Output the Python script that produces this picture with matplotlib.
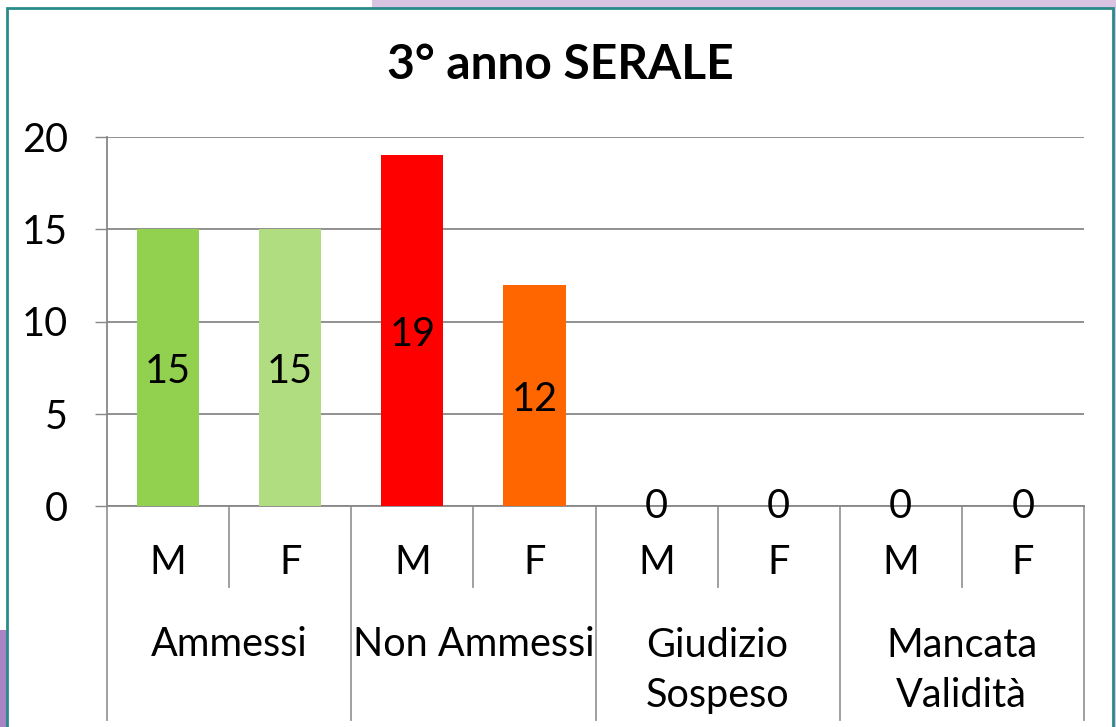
import matplotlib
matplotlib.use("Agg")
import matplotlib.pyplot as plt
from matplotlib.patches import Rectangle

title = "3° anno SERALE"
groups = ["Ammessi", "Non Ammessi", "Giudizio\nSospeso", "Mancata\nValidità"]
sexes = ["M", "F"]
values = [15, 15, 19, 12, 0, 0, 0, 0]
colors = ["#92D050", "#B0DD80", "#FF0000", "#FF6600", "#4F81BD", "#4F81BD", "#4F81BD", "#4F81BD"]
yticks = [0, 5, 10, 15, 20]

FONT = "Lato"
FS = 28.5
W, H = 1116, 727
fig = plt.figure(figsize=(W / 100, H / 100), dpi=100)
fig.patch.set_facecolor("white")

# background decorations
fig.add_artist(Rectangle((372 / W, 1 - 8 / H), (W - 372) / W, 8 / H, transform=fig.transFigure,
                         facecolor="#D8C4E2", edgecolor="none", zorder=0))
fig.add_artist(Rectangle((1113 / W, 0), 3 / W, 1, transform=fig.transFigure,
                         facecolor="#D8C4E2", edgecolor="none", zorder=0))
fig.add_artist(Rectangle((0, 0), 7 / W, (H - 630) / H, transform=fig.transFigure,
                         facecolor="#A884C4", edgecolor="none", zorder=0))
fig.add_artist(Rectangle((7 / W, -0.05), (1113 - 7) / W, 1 - 8 / H + 0.05, transform=fig.transFigure,
                         facecolor="white", edgecolor="#2A8A8A", linewidth=2, zorder=1))

L, R, T, B = 107, 1084, 137, 506
ax = fig.add_axes([L / W, 1 - B / H, (R - L) / W, (B - T) / H])
ax.set_facecolor("none")
ax.set_zorder(2)

n = len(values)
x = list(range(n))
ax.bar(x, values, width=0.51, color=colors, zorder=3)
ax.set_xlim(-0.5, n - 0.5)
ax.set_ylim(0, 20)

for xi, v in zip(x, values):
    off = -3 if v > 0 else 0
    ax.annotate(str(v), (xi, v / 2), xytext=(0, off), textcoords="offset points",
                ha="center", va="center", fontsize=FS, family=FONT, zorder=4)

ax.set_yticks(yticks)
ax.set_yticklabels([str(t) for t in yticks], fontsize=FS, family=FONT)
ax.tick_params(axis="y", length=8.6, color="#888888", pad=19.5, width=1.0)
ax.set_xticks([])
ax.grid(axis="y", color="#888888", linewidth=1.3, zorder=1)
for s in ["top", "right"]:
    ax.spines[s].set_visible(False)
ax.spines["left"].set_color("#888888")
ax.spines["bottom"].set_color("#888888")
ax.spines["left"].set_linewidth(1.3)
ax.spines["bottom"].set_linewidth(1.3)

axh = B - T
trans = ax.get_xaxis_transform()
short = -(587 - B) / axh
long_ = -(720 - B) / axh
for i in range(n + 1):
    pos = i - 0.5
    y1 = long_ if i % 2 == 0 else short
    ax.plot([pos, pos], [0, y1], transform=trans, color="#999999", linewidth=1.3, clip_on=False)

for i in range(n):
    ax.text(i, -(563 - B) / axh, sexes[i % 2], transform=trans, ha="center", va="center",
            fontsize=FS, family=FONT)
for g, name in enumerate(groups):
    nl = name.count("\n") + 1
    yc = 644 + (nl - 1) * 53 / 2
    ax.text(2 * g + 0.5, -(yc - B) / axh, name, transform=trans, ha="center", va="center",
            fontsize=FS, family=FONT, linespacing=1.42)

fig.text(560 / W, 1 - 65 / H, title, ha="center", va="center", fontsize=34.5, fontweight="bold", family=FONT)

fig.savefig("out.png", dpi=100)
